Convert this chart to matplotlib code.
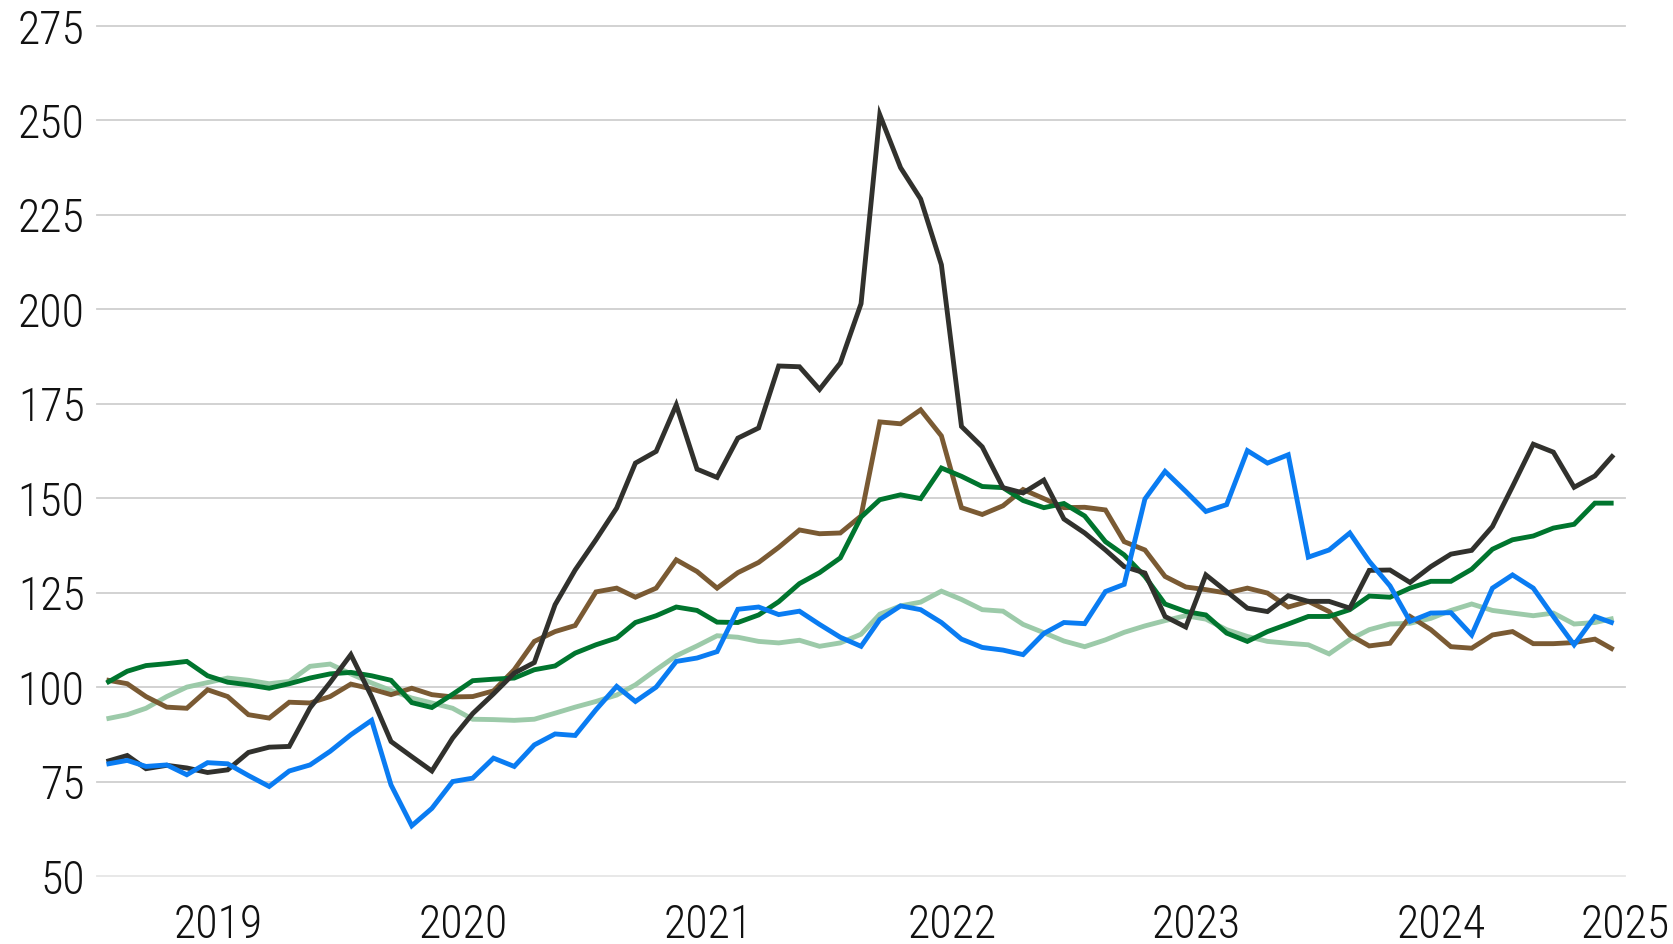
import os
import numpy as np
import pandas as pd
import matplotlib
matplotlib.use("Agg")
import matplotlib.pyplot as plt
import matplotlib.dates as mdates
import matplotlib.transforms as mtransforms
from matplotlib import font_manager as fm

# ---------------- data ----------------
months = pd.date_range("2019-01-01", periods=75, freq="MS")

black = [80.3, 81.9, 78.4, 79.3, 78.6, 77.4, 78.1, 82.7, 84.1, 84.3,
         94.5, 101.2, 108.6, 97.5, 85.6, 81.6, 77.8, 86.5, 93.0, 98.2,
         103.7, 106.5, 121.8, 131.0, 139.0, 147.4, 159.3, 162.4, 174.7, 157.7,
         155.5, 165.9, 168.6, 185.0, 184.8, 178.8, 185.8, 201.5, 251.5, 237.5,
         229.2, 211.8, 169.0, 163.6, 152.8, 151.4, 154.8, 144.5, 140.8, 136.3,
         131.9, 130.2, 118.7, 115.9, 129.7, 125.3, 120.9, 120.0, 124.2, 122.7,
         122.7, 120.9, 130.9, 131.0, 127.7, 131.9, 135.2, 136.2, 142.5, 153.1,
         164.3, 162.2, 152.9, 155.9, 161.5]

brown = [101.9, 100.9, 97.5, 94.7, 94.4, 99.3, 97.5, 92.7, 91.8, 96.0,
         95.8, 97.5, 100.8, 99.5, 98.0, 99.7, 98.0, 97.4, 97.5, 99.0,
         104.6, 112.1, 114.7, 116.3, 125.2, 126.2, 123.8, 126.2, 133.7, 130.6,
         126.2, 130.3, 133.0, 137.0, 141.6, 140.6, 140.8, 145.3, 170.2, 169.7,
         173.4, 166.5, 147.5, 145.7, 148.0, 152.3, 149.9, 147.5, 147.6, 146.9,
         138.5, 136.3, 129.3, 126.5, 125.8, 124.9, 126.2, 124.9, 121.2, 122.7,
         120.0, 113.8, 110.9, 111.6, 118.7, 115.2, 110.7, 110.3, 113.8, 114.7,
         111.5, 111.5, 111.8, 112.7, 109.9]

dark_green = [101.1, 104.2, 105.7, 106.2, 106.8, 103.0, 101.3, 100.6, 99.7, 100.9,
              102.4, 103.5, 103.9, 103.0, 101.8, 95.9, 94.6, 98.1, 101.7, 102.1,
              102.4, 104.6, 105.6, 109.0, 111.2, 113.0, 117.1, 118.9, 121.2, 120.3,
              117.2, 117.1, 119.1, 122.6, 127.4, 130.3, 134.2, 145.0, 149.6, 150.9,
              149.9, 158.0, 155.8, 153.1, 152.8, 149.4, 147.5, 148.6, 145.3, 138.5,
              135.0, 129.3, 122.0, 120.0, 119.1, 114.3, 112.1, 114.7, 116.7, 118.7,
              118.7, 120.5, 124.1, 123.8, 126.2, 128.0, 128.0, 131.2, 136.5, 139.0,
              140.0, 142.1, 143.1, 148.7, 148.7]

light_green = [91.6, 92.7, 94.4, 97.5, 100.0, 101.2, 102.4, 101.8, 100.9, 101.5,
               105.5, 106.1, 103.5, 101.1, 99.1, 97.1, 95.8, 94.4, 91.5, 91.4,
               91.2, 91.5, 93.1, 94.7, 96.2, 97.9, 100.6, 104.6, 108.3, 110.9,
               113.6, 113.2, 112.1, 111.7, 112.4, 110.8, 111.7, 114.0, 119.3, 121.5,
               122.5, 125.4, 123.2, 120.5, 120.1, 116.6, 114.4, 112.2, 110.7, 112.5,
               114.5, 116.2, 117.6, 118.9, 118.0, 115.2, 113.4, 112.1, 111.6, 111.2,
               108.8, 112.6, 115.2, 116.7, 116.9, 118.2, 120.3, 122.0, 120.3, 119.6,
               118.9, 119.6, 116.7, 117.1, 118.2]

blue = [79.6, 80.6, 79.0, 79.4, 76.8, 80.0, 79.7, 76.6, 73.7, 77.8,
        79.4, 83.0, 87.4, 91.2, 74.1, 63.3, 67.9, 75.0, 75.9, 81.2,
        79.0, 84.7, 87.6, 87.2, 94.0, 100.2, 96.2, 100.0, 106.8, 107.7,
        109.4, 120.6, 121.2, 119.2, 120.1, 116.6, 113.2, 110.8, 117.9, 121.5,
        120.5, 117.1, 112.7, 110.5, 109.8, 108.6, 114.2, 117.1, 116.8, 125.3,
        127.2, 149.8, 157.1, 151.8, 146.5, 148.3, 162.6, 159.3, 161.5, 134.4,
        136.3, 140.8, 133.3, 126.8, 117.4, 119.6, 119.7, 113.8, 126.2, 129.7,
        126.2, 118.7, 111.2, 118.7, 116.9]

y_ticks = [50, 75, 100, 125, 150, 175, 200, 225, 250, 275]
year_labels = ["2019", "2020", "2021", "2022", "2023", "2024", "2025"]

# ---------------- font ----------------
def pick_font():
    prefs = ["robotocondensed-light", "roboto_condensed-light",
             "opensans_condensed-light", "opensanscondensed-light",
             "dejavusanscondensed.ttf", "lato-light.", "roboto-light.",
             "opensans-light."]
    files = [f.fname for f in fm.fontManager.ttflist]
    for p in prefs:
        for f in files:
            if p in os.path.basename(f).lower():
                return fm.FontProperties(fname=f)
    return fm.FontProperties(family=["Lato", "DejaVu Sans"])

fp = pick_font()
FS = 33
TXT = "#111111"

# ---------------- figure ----------------
W, H = 1673, 944
fig = plt.figure(figsize=(W / 100, H / 100), dpi=100)
x0, x1 = 97.1, 1625.0
yb, yt = 876.0, 26.0
ax = fig.add_axes([x0 / W, 1 - yb / H, (x1 - x0) / W, (yb - yt) / H])

xs = months + pd.Timedelta(days=14)

series = [
    (light_green, "#9ccaa9"),
    (brown, "#7a5a33"),
    (dark_green, "#00752e"),
    (black, "#31312d"),
    (blue, "#0a7cf2"),
]
for vals, col in series:
    ax.plot(xs, vals, color=col, lw=3.5, solid_joinstyle="miter",
            solid_capstyle="butt", zorder=3)

ax.set_xlim(pd.Timestamp("2019-01-01"), pd.Timestamp("2025-04-01"))
ax.set_ylim(50, 275)

for v in y_ticks:
    ax.axhline(v, color="#e6e6e6" if v == 50 else "#cfcfcf", lw=1.3,
               zorder=1, clip_on=False)

for s in ax.spines.values():
    s.set_visible(False)

ax.set_yticks(y_ticks)
ax.set_yticklabels([str(v) for v in y_ticks])
ax.tick_params(axis="y", length=0, pad=9, labelcolor=TXT)
for lab in ax.get_yticklabels():
    lab.set_fontproperties(fp)
    lab.set_fontsize(FS)

ax.set_xticks([])
trans = mtransforms.blended_transform_factory(ax.transData, fig.transFigure)
base_y = 1 - 938.0 / H
for k, lab in enumerate(year_labels):
    if lab == "2025":
        xpos = mdates.date2num(pd.Timestamp("2025-04-01"))
    else:
        xpos = mdates.date2num(pd.Timestamp(f"{2019 + k}-07-01"))
    ax.text(xpos, base_y, lab, transform=trans, ha="center", va="baseline",
            fontproperties=fp, fontsize=FS, color=TXT, clip_on=False)

fig.savefig("out.png", dpi=100, facecolor="white")
